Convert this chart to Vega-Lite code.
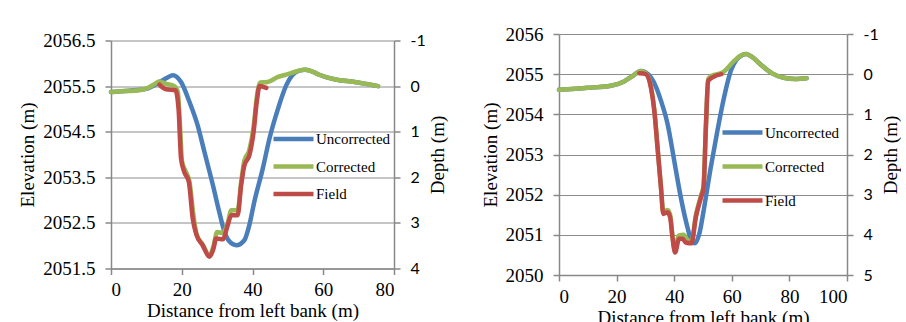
{
  "$schema": "https://vega.github.io/schema/vega-lite/v6.json",
  "background": "white",
  "padding": {"left": 18, "top": 24, "right": 0, "bottom": 0},
  "spacing": 33,
  "center": true,
  "config": {
    "view": {"stroke": null},
    "axis": {
      "domainColor": "#888888", "domainWidth": 1.5,
      "tickColor": "#888888", "tickSize": 6, "tickWidth": 1.5,
      "gridColor": "#8c8c8c", "gridWidth": 1,
      "labelColor": "black", "labelFont": "Liberation Serif", "labelFontSize": 19,
      "titleColor": "black", "titleFont": "Liberation Serif", "titleFontSize": 19, "titleFontWeight": "normal"
    },
    "legend": {
      "orient": "none", "title": null, "symbolType": "M-2,0H2", "symbolSize": 400, "symbolStrokeWidth": 4.5,
      "labelFont": "Liberation Serif", "labelFontSize": 15, "labelColor": "black", "labelOffset": 10
    }
  },
  "datasets": {
    "left": [
      {"x": 0, "elev": 2055.37, "series": "Uncorrected"},
      {"x": 5, "elev": 2055.4, "series": "Uncorrected"},
      {"x": 10, "elev": 2055.44, "series": "Uncorrected"},
      {"x": 12, "elev": 2055.51, "series": "Uncorrected"},
      {"x": 14, "elev": 2055.6, "series": "Uncorrected"},
      {"x": 16, "elev": 2055.69, "series": "Uncorrected"},
      {"x": 17.5, "elev": 2055.74, "series": "Uncorrected"},
      {"x": 19.8, "elev": 2055.59, "series": "Uncorrected"},
      {"x": 22.2, "elev": 2055.15, "series": "Uncorrected"},
      {"x": 24.5, "elev": 2054.64, "series": "Uncorrected"},
      {"x": 26.4, "elev": 2054.06, "series": "Uncorrected"},
      {"x": 28.8, "elev": 2053.33, "series": "Uncorrected"},
      {"x": 30.6, "elev": 2052.74, "series": "Uncorrected"},
      {"x": 32.1, "elev": 2052.3, "series": "Uncorrected"},
      {"x": 33.5, "elev": 2052.09, "series": "Uncorrected"},
      {"x": 35.4, "elev": 2052.01, "series": "Uncorrected"},
      {"x": 37.7, "elev": 2052.12, "series": "Uncorrected"},
      {"x": 39.1, "elev": 2052.45, "series": "Uncorrected"},
      {"x": 40.5, "elev": 2052.96, "series": "Uncorrected"},
      {"x": 42.9, "elev": 2053.69, "series": "Uncorrected"},
      {"x": 44.8, "elev": 2054.35, "series": "Uncorrected"},
      {"x": 47.2, "elev": 2055.0, "series": "Uncorrected"},
      {"x": 49.5, "elev": 2055.51, "series": "Uncorrected"},
      {"x": 52.3, "elev": 2055.81, "series": "Uncorrected"},
      {"x": 54.7, "elev": 2055.86, "series": "Uncorrected"},
      {"x": 56.6, "elev": 2055.83, "series": "Uncorrected"},
      {"x": 58.5, "elev": 2055.76, "series": "Uncorrected"},
      {"x": 63.2, "elev": 2055.65, "series": "Uncorrected"},
      {"x": 68.9, "elev": 2055.59, "series": "Uncorrected"},
      {"x": 75.5, "elev": 2055.5, "series": "Uncorrected"},
      {"x": 0, "elev": 2055.37, "series": "Corrected"},
      {"x": 4, "elev": 2055.39, "series": "Corrected"},
      {"x": 8, "elev": 2055.41, "series": "Corrected"},
      {"x": 10.4, "elev": 2055.46, "series": "Corrected"},
      {"x": 12, "elev": 2055.53, "series": "Corrected"},
      {"x": 13.7, "elev": 2055.6, "series": "Corrected"},
      {"x": 15.6, "elev": 2055.55, "series": "Corrected"},
      {"x": 17.9, "elev": 2055.5, "series": "Corrected"},
      {"x": 18.9, "elev": 2055.37, "series": "Corrected"},
      {"x": 19.5, "elev": 2054.64, "series": "Corrected"},
      {"x": 20.1, "elev": 2053.84, "series": "Corrected"},
      {"x": 21.2, "elev": 2053.62, "series": "Corrected"},
      {"x": 22.2, "elev": 2053.4, "series": "Corrected"},
      {"x": 23.3, "elev": 2052.67, "series": "Corrected"},
      {"x": 24.2, "elev": 2052.25, "series": "Corrected"},
      {"x": 25.9, "elev": 2052.03, "series": "Corrected"},
      {"x": 27.8, "elev": 2051.79, "series": "Corrected"},
      {"x": 29, "elev": 2052.0, "series": "Corrected"},
      {"x": 30, "elev": 2052.3, "series": "Corrected"},
      {"x": 31.6, "elev": 2052.28, "series": "Corrected"},
      {"x": 33, "elev": 2052.5, "series": "Corrected"},
      {"x": 34, "elev": 2052.78, "series": "Corrected"},
      {"x": 35.8, "elev": 2052.78, "series": "Corrected"},
      {"x": 36.8, "elev": 2053.4, "series": "Corrected"},
      {"x": 37.7, "elev": 2053.87, "series": "Corrected"},
      {"x": 39.1, "elev": 2054.1, "series": "Corrected"},
      {"x": 40.3, "elev": 2054.6, "series": "Corrected"},
      {"x": 41.2, "elev": 2055.25, "series": "Corrected"},
      {"x": 42.2, "elev": 2055.58, "series": "Corrected"},
      {"x": 44.3, "elev": 2055.59, "series": "Corrected"},
      {"x": 47.2, "elev": 2055.7, "series": "Corrected"},
      {"x": 49.5, "elev": 2055.75, "series": "Corrected"},
      {"x": 52.3, "elev": 2055.82, "series": "Corrected"},
      {"x": 54.7, "elev": 2055.86, "series": "Corrected"},
      {"x": 56.6, "elev": 2055.83, "series": "Corrected"},
      {"x": 58.5, "elev": 2055.76, "series": "Corrected"},
      {"x": 63.2, "elev": 2055.65, "series": "Corrected"},
      {"x": 68.9, "elev": 2055.59, "series": "Corrected"},
      {"x": 75.5, "elev": 2055.5, "series": "Corrected"},
      {"x": 13.7, "elev": 2055.53, "series": "Field"},
      {"x": 15.6, "elev": 2055.43, "series": "Field"},
      {"x": 18.2, "elev": 2055.41, "series": "Field"},
      {"x": 19.1, "elev": 2055.0, "series": "Field"},
      {"x": 19.8, "elev": 2053.91, "series": "Field"},
      {"x": 20.7, "elev": 2053.62, "series": "Field"},
      {"x": 22, "elev": 2053.4, "series": "Field"},
      {"x": 23.1, "elev": 2052.6, "series": "Field"},
      {"x": 24.2, "elev": 2052.23, "series": "Field"},
      {"x": 25.9, "elev": 2052.01, "series": "Field"},
      {"x": 27.8, "elev": 2051.76, "series": "Field"},
      {"x": 29, "elev": 2051.94, "series": "Field"},
      {"x": 29.7, "elev": 2052.16, "series": "Field"},
      {"x": 31.6, "elev": 2052.14, "series": "Field"},
      {"x": 33, "elev": 2052.45, "series": "Field"},
      {"x": 34, "elev": 2052.67, "series": "Field"},
      {"x": 35.8, "elev": 2052.67, "series": "Field"},
      {"x": 36.8, "elev": 2053.33, "series": "Field"},
      {"x": 37.7, "elev": 2053.76, "series": "Field"},
      {"x": 39.1, "elev": 2053.98, "series": "Field"},
      {"x": 40.3, "elev": 2054.49, "series": "Field"},
      {"x": 41.2, "elev": 2055.15, "series": "Field"},
      {"x": 42, "elev": 2055.5, "series": "Field"},
      {"x": 43.9, "elev": 2055.46, "series": "Field"}
    ],
    "right": [
      {"x": 0, "elev": 2054.61, "series": "Uncorrected"},
      {"x": 10, "elev": 2054.66, "series": "Uncorrected"},
      {"x": 18, "elev": 2054.71, "series": "Uncorrected"},
      {"x": 22.6, "elev": 2054.82, "series": "Uncorrected"},
      {"x": 25.5, "elev": 2054.95, "series": "Uncorrected"},
      {"x": 28.4, "elev": 2055.08, "series": "Uncorrected"},
      {"x": 30, "elev": 2055.05, "series": "Uncorrected"},
      {"x": 31.9, "elev": 2054.92, "series": "Uncorrected"},
      {"x": 33.7, "elev": 2054.68, "series": "Uncorrected"},
      {"x": 35.4, "elev": 2054.34, "series": "Uncorrected"},
      {"x": 37.7, "elev": 2053.76, "series": "Uncorrected"},
      {"x": 40, "elev": 2052.85, "series": "Uncorrected"},
      {"x": 42.3, "elev": 2051.93, "series": "Uncorrected"},
      {"x": 44.6, "elev": 2051.19, "series": "Uncorrected"},
      {"x": 46, "elev": 2050.85, "series": "Uncorrected"},
      {"x": 47.2, "elev": 2050.79, "series": "Uncorrected"},
      {"x": 48.7, "elev": 2051.02, "series": "Uncorrected"},
      {"x": 50.4, "elev": 2051.68, "series": "Uncorrected"},
      {"x": 52.7, "elev": 2052.68, "series": "Uncorrected"},
      {"x": 55, "elev": 2053.59, "series": "Uncorrected"},
      {"x": 57.3, "elev": 2054.42, "series": "Uncorrected"},
      {"x": 59.7, "elev": 2055.09, "series": "Uncorrected"},
      {"x": 61.5, "elev": 2055.35, "series": "Uncorrected"},
      {"x": 63.5, "elev": 2055.47, "series": "Uncorrected"},
      {"x": 65, "elev": 2055.5, "series": "Uncorrected"},
      {"x": 67, "elev": 2055.43, "series": "Uncorrected"},
      {"x": 70, "elev": 2055.24, "series": "Uncorrected"},
      {"x": 74, "elev": 2055.02, "series": "Uncorrected"},
      {"x": 78, "elev": 2054.91, "series": "Uncorrected"},
      {"x": 82, "elev": 2054.88, "series": "Uncorrected"},
      {"x": 86, "elev": 2054.9, "series": "Uncorrected"},
      {"x": 0, "elev": 2054.61, "series": "Corrected"},
      {"x": 10, "elev": 2054.66, "series": "Corrected"},
      {"x": 18, "elev": 2054.71, "series": "Corrected"},
      {"x": 22.6, "elev": 2054.82, "series": "Corrected"},
      {"x": 25.5, "elev": 2054.95, "series": "Corrected"},
      {"x": 28.4, "elev": 2055.08, "series": "Corrected"},
      {"x": 30.2, "elev": 2055.02, "series": "Corrected"},
      {"x": 31.9, "elev": 2054.7, "series": "Corrected"},
      {"x": 33.1, "elev": 2054.1, "series": "Corrected"},
      {"x": 34.2, "elev": 2053.2, "series": "Corrected"},
      {"x": 35.4, "elev": 2052.2, "series": "Corrected"},
      {"x": 36.2, "elev": 2051.58, "series": "Corrected"},
      {"x": 37.7, "elev": 2051.62, "series": "Corrected"},
      {"x": 38.6, "elev": 2051.5, "series": "Corrected"},
      {"x": 39.4, "elev": 2050.98, "series": "Corrected"},
      {"x": 40.3, "elev": 2050.6, "series": "Corrected"},
      {"x": 41.5, "elev": 2050.98, "series": "Corrected"},
      {"x": 43.3, "elev": 2051.0, "series": "Corrected"},
      {"x": 44.5, "elev": 2050.88, "series": "Corrected"},
      {"x": 46, "elev": 2050.82, "series": "Corrected"},
      {"x": 47.5, "elev": 2051.48, "series": "Corrected"},
      {"x": 49.3, "elev": 2051.98, "series": "Corrected"},
      {"x": 50.2, "elev": 2052.22, "series": "Corrected"},
      {"x": 51, "elev": 2053.7, "series": "Corrected"},
      {"x": 51.8, "elev": 2054.88, "series": "Corrected"},
      {"x": 53, "elev": 2054.96, "series": "Corrected"},
      {"x": 56.8, "elev": 2055.04, "series": "Corrected"},
      {"x": 60.8, "elev": 2055.33, "series": "Corrected"},
      {"x": 63, "elev": 2055.46, "series": "Corrected"},
      {"x": 65, "elev": 2055.5, "series": "Corrected"},
      {"x": 67, "elev": 2055.43, "series": "Corrected"},
      {"x": 70, "elev": 2055.24, "series": "Corrected"},
      {"x": 74, "elev": 2055.02, "series": "Corrected"},
      {"x": 78, "elev": 2054.91, "series": "Corrected"},
      {"x": 82, "elev": 2054.88, "series": "Corrected"},
      {"x": 86, "elev": 2054.9, "series": "Corrected"},
      {"x": 27.9, "elev": 2055.02, "series": "Field"},
      {"x": 30.2, "elev": 2055.0, "series": "Field"},
      {"x": 31.9, "elev": 2054.67, "series": "Field"},
      {"x": 33.1, "elev": 2054.09, "series": "Field"},
      {"x": 34.2, "elev": 2053.18, "series": "Field"},
      {"x": 35.4, "elev": 2052.18, "series": "Field"},
      {"x": 36.2, "elev": 2051.52, "series": "Field"},
      {"x": 37.7, "elev": 2051.56, "series": "Field"},
      {"x": 38.6, "elev": 2051.43, "series": "Field"},
      {"x": 39.4, "elev": 2050.94, "series": "Field"},
      {"x": 40.3, "elev": 2050.56, "series": "Field"},
      {"x": 41.7, "elev": 2050.9, "series": "Field"},
      {"x": 42.9, "elev": 2050.9, "series": "Field"},
      {"x": 44, "elev": 2050.81, "series": "Field"},
      {"x": 46, "elev": 2050.79, "series": "Field"},
      {"x": 47.5, "elev": 2051.43, "series": "Field"},
      {"x": 49.3, "elev": 2051.93, "series": "Field"},
      {"x": 50.2, "elev": 2052.18, "series": "Field"},
      {"x": 51, "elev": 2053.67, "series": "Field"},
      {"x": 51.8, "elev": 2054.83, "series": "Field"},
      {"x": 53.3, "elev": 2054.92, "series": "Field"},
      {"x": 56.4, "elev": 2055.0, "series": "Field"}
    ],
    "depthL": [{"d": -1}, {"d": 4}],
    "depthR": [{"d": -1}, {"d": 5}]
  },
  "hconcat": [
    {
      "width": 283, "height": 228,
      "title": {"text": " ", "fontSize": 7, "offset": 0},
      "layer": [
        {
          "data": {"name": "left"},
          "mark": {"type": "line", "interpolate": "monotone", "strokeWidth": 4.5, "strokeCap": "round", "strokeJoin": "round"},
          "encoding": {
            "x": {"field": "x", "type": "quantitative", "scale": {"domain": [0, 80], "nice": false},
                  "axis": {"values": [0, 20, 40, 60, 80], "format": "d", "grid": false, "labelPadding": 6, "titlePadding": 2, "title": "Distance from left bank (m)"}},
            "y": {"field": "elev", "type": "quantitative", "scale": {"domain": [2051.5, 2056.5], "nice": false, "zero": false},
                  "axis": {"values": [2051.5, 2052.5, 2053.5, 2054.5, 2055.5, 2056.5], "format": ".1f", "grid": true, "labelPadding": 10, "titlePadding": 5, "title": "Elevation (m)"}},
            "color": {"field": "series", "type": "nominal", "sort": null,
                      "scale": {"domain": ["Uncorrected", "Corrected", "Field"], "range": ["#4A7EBB", "#98B954", "#BE4B48"]},
                      "legend": {"legendX": 170, "legendY": 86, "rowPadding": 5.5}}
          }
        },
        {
          "data": {"name": "depthL"},
          "mark": {"type": "point", "opacity": 0},
          "encoding": {
            "y": {"field": "d", "type": "quantitative", "scale": {"domain": [-1, 4], "reverse": true, "nice": false, "zero": false},
                  "axis": {"orient": "right", "values": [-1, 0, 1, 2, 3, 4], "labelExpr": "'' + datum.value", "grid": false, "labelFont": "Lato", "labelFontSize": 16, "labelPadding": 10, "titlePadding": 3, "titleAngle": 270, "titleBaseline": "top", "title": "Depth (m)"}}
          }
        }
      ],
      "resolve": {"scale": {"y": "independent"}}
    },
    {
      "width": 288, "height": 241,
      "layer": [
        {
          "data": {"name": "right"},
          "mark": {"type": "line", "interpolate": "monotone", "strokeWidth": 4.5, "strokeCap": "round", "strokeJoin": "round"},
          "encoding": {
            "x": {"field": "x", "type": "quantitative", "scale": {"domain": [0, 100], "nice": false},
                  "axis": {"values": [0, 20, 40, 60, 80, 100], "format": "d", "grid": false, "labelPadding": 6, "titlePadding": 2, "title": "Distance from left bank (m)"}},
            "y": {"field": "elev", "type": "quantitative", "scale": {"domain": [2050, 2056], "nice": false, "zero": false},
                  "axis": {"values": [2050, 2051, 2052, 2053, 2054, 2055, 2056], "format": "d", "grid": true, "labelPadding": 10, "titlePadding": 5, "title": "Elevation (m)"}},
            "color": {"field": "series", "type": "nominal", "sort": null,
                      "scale": {"domain": ["Uncorrected", "Corrected", "Field"], "range": ["#4A7EBB", "#98B954", "#BE4B48"]},
                      "legend": {"legendX": 171, "legendY": 86, "rowPadding": 12}}
          }
        },
        {
          "data": {"name": "depthR"},
          "mark": {"type": "point", "opacity": 0},
          "encoding": {
            "y": {"field": "d", "type": "quantitative", "scale": {"domain": [-1, 5], "reverse": true, "nice": false, "zero": false},
                  "axis": {"orient": "right", "values": [-1, 0, 1, 2, 3, 4, 5], "labelExpr": "'' + datum.value", "grid": false, "labelFont": "Lato", "labelFontSize": 16, "labelPadding": 10, "titlePadding": 3, "titleAngle": 270, "titleBaseline": "top", "title": "Depth (m)"}}
          }
        }
      ],
      "resolve": {"scale": {"y": "independent"}}
    }
  ],
  "resolve": {"legend": {"color": "independent"}}
}
